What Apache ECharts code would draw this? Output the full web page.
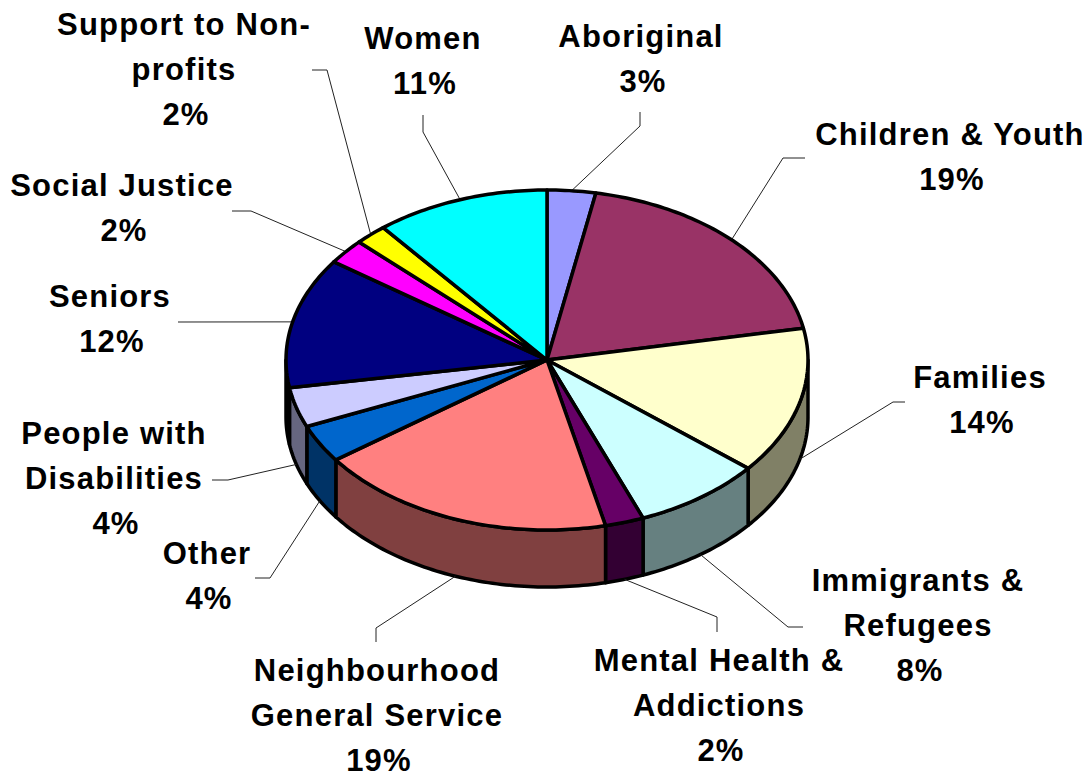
<!DOCTYPE html>
<html>
<head>
<meta charset="utf-8">
<style>
  html, body { margin: 0; padding: 0; background: #fff; }
  #main { width: 1091px; height: 773px; }
  #main text { letter-spacing: 1.2px; }
</style>
<script src="https://cdn.jsdelivr.net/npm/echarts@6/dist/echarts.min.js"></script>
</head>
<body>
<div id="main"></div>
<script>
// the printed % labels are these rounded
var categories = ['Aboriginal', 'Children & Youth', 'Families', 'Immigrants & Refugees', 'Mental Health & Addictions',
    'Neighbourhood General Service', 'Other', 'People with Disabilities', 'Seniors', 'Social Justice',
    'Support to Non-profits', 'Women'];
var values = [3, 19, 14, 8, 2.4, 18.6, 3.6, 3.8, 12.4, 2.4, 2, 10.8];

var topColors = ['#9999FF', '#993366', '#FFFFCC', '#CCFFFF', '#660066', '#FF8080', '#0066CC', '#CCCCFF', '#000080', '#FF00FF', '#FFFF00', '#00FFFF'];
var wallColors = ['#4D4D80', '#4D1A33', '#808066', '#668080', '#330033', '#804040', '#003366', '#666680', '#000040', '#800080', '#808000', '#008080'];

// how each label is broken over lines
var labelLines = [['Aboriginal'], ['Children & Youth'], ['Families'], ['Immigrants &', 'Refugees'], ['Mental Health &', 'Addictions'],
    ['Neighbourhood', 'General Service'], ['Other'], ['People with', 'Disabilities'], ['Seniors'], ['Social Justice'],
    ['Support to Non-', 'profits'], ['Women']];
// label block: centre x, first line centre y
var labelX = [641, 950, 980, 918, 719, 377, 207, 114, 110, 122, 184, 423];
var labelY = [36, 134, 377, 580, 660, 670, 553, 433, 296, 185, 24, 38];
// leader line: outer end, then elbow, then it runs to the slice edge
var leaderEnd = [[640, 112], [805, 158], [905, 402], [803, 627], [717, 632], [376, 642], [255, 578], [212, 480], [178, 322], [232, 211], [312, 70], [423, 115]];
var leaderElbow = [[640, 126], [783, 158], [893, 402], [788, 627], [717, 617], [376, 628], [270, 578], [228, 480], [178, 322], [251, 211], [327, 70], [423, 132]];

var cx = 547, cy = 360, rx = 261, ry = 170, depth = 57;
var lineH = 45;
var pctShift = 2;
var fontCss = 'bold 31px "Liberation Sans", Arial, sans-serif';

var total = values.reduce(function (a, b) { return a + b; }, 0);
var starts = [];
var run = 0;
values.forEach(function (v) {
    starts.push(run / total * 360);
    run += v;
});

function pt(deg, dy) {
    var r = deg * Math.PI / 180;
    return [cx + rx * Math.sin(r), cy - ry * Math.cos(r) + (dy || 0)];
}

function arc(a, b, dy) {
    var pts = [];
    var n = Math.max(2, Math.ceil(Math.abs(b - a)));
    for (var i = 0; i <= n; i++) {
        pts.push(pt(a + (b - a) * i / n, dy));
    }
    return pts;
}

function sweep(i) {
    return [starts[i], starts[i] + values[i] / total * 360];
}

function renderWall(params) {
    var i = params.dataIndex;
    var s = sweep(i);
    var a = Math.max(s[0], 90), b = Math.min(s[1], 270);
    if (b <= a) {
        return null;
    }
    return {
        type: 'polygon',
        shape: { points: arc(a, b, 0).concat(arc(b, a, depth)) },
        style: { fill: wallColors[i], stroke: '#000', lineWidth: 3.5, lineJoin: 'round' }
    };
}

function renderTop(params) {
    var i = params.dataIndex;
    var s = sweep(i);
    return {
        type: 'polygon',
        shape: { points: [[cx, cy]].concat(arc(s[0], s[1], 0)) },
        style: { fill: topColors[i], stroke: '#000', lineWidth: 3.5, lineJoin: 'round' }
    };
}

function renderLabel(params, api) {
    var i = params.dataIndex;
    var s = sweep(i);
    var mid = (s[0] + s[1]) / 2;
    // slices on the front half hook their leader on the bottom of the wall
    var anchor = pt(mid, mid > 90 && mid < 270 ? depth : 0);
    var kids = [{
        type: 'polyline',
        shape: { points: [leaderEnd[i], leaderElbow[i], anchor] },
        style: { fill: null, stroke: '#222', lineWidth: 1 }
    }];
    var lines = labelLines[i].concat([Math.round(api.value(0)) + '%']);
    lines.forEach(function (t, k) {
        kids.push({
            type: 'text',
            style: {
                x: labelX[i] + (k === lines.length - 1 ? pctShift : 0),
                y: labelY[i] + k * lineH,
                text: t,
                font: fontCss,
                fill: '#000',
                align: 'center',
                verticalAlign: 'middle'
            }
        });
    });
    return { type: 'group', children: kids };
}

// svg renderer so the css letter-spacing above applies to the labels
var myChart = echarts.init(document.getElementById('main'), null, { renderer: 'svg' });
var option = {
    animation: false,
    backgroundColor: '#fff',
    series: [
        { name: 'walls', type: 'custom', coordinateSystem: 'none', z: 1, silent: true, data: values, renderItem: renderWall },
        { name: 'labels', type: 'custom', coordinateSystem: 'none', z: 2, silent: true, data: values, renderItem: renderLabel },
        { name: 'tops', type: 'custom', coordinateSystem: 'none', z: 3, silent: true, data: values, renderItem: renderTop }
    ]
};
myChart.setOption(option);
</script>
</body>
</html>
